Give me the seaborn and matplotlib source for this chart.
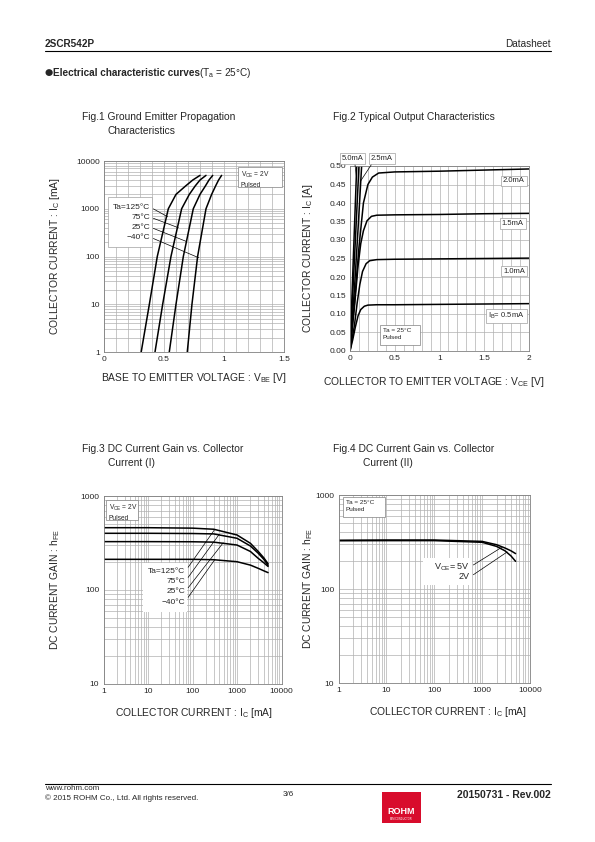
import pandas as pd
import seaborn as sns
import matplotlib.pyplot as plt
from matplotlib.patches import Rectangle
from matplotlib.lines import Line2D

# ---- Fig.1 Ground emitter propagation (IC vs VBE) ----
fig1_ic = [1, 10, 100, 1000, 2000, 3000, 4000, 5000]
fig1_names = ["Ta=125°C", "75°C", "25°C", "\u221240°C"]
fig1_vbe_125 = [0.31, 0.378, 0.444, 0.536, 0.60, 0.68, 0.74, 0.80]
fig1_vbe_75 = [0.425, 0.489, 0.558, 0.647, 0.711, 0.76, 0.80, 0.85]
fig1_vbe_25 = [0.544, 0.60, 0.661, 0.744, 0.80, 0.845, 0.875, 0.906]
fig1_vbe_m40 = [0.694, 0.733, 0.78, 0.85, 0.897, 0.93, 0.955, 0.98]
fig1_leader_v = [0.53, 0.62, 0.69, 0.79]
fig1_leader_ic = [680, 400, 205, 94]

# ---- Fig.2 Typical output characteristics (IC vs VCE) ----
fig2_names = ["0.5mA", "1.0mA", "1.5mA", "2.0mA", "2.5mA", "3.0mA", "5.0mA"]
fig2_vce_05 = [0, 0.03, 0.06, 0.09, 0.12, 0.16, 0.2, 0.3, 0.5, 1.0, 1.5, 2.0]
fig2_ic_05 = [0, 0.03, 0.065, 0.095, 0.112, 0.121, 0.124, 0.125, 0.125, 0.126, 0.127, 0.128]
fig2_vce_10 = [0, 0.05, 0.08, 0.11, 0.14, 0.18, 0.22, 0.3, 0.5, 1.0, 1.5, 2.0]
fig2_ic_10 = [0, 0.07, 0.13, 0.18, 0.215, 0.236, 0.244, 0.247, 0.248, 0.249, 0.250, 0.251]
fig2_vce_15 = [0, 0.05, 0.09, 0.12, 0.15, 0.19, 0.24, 0.3, 0.5, 1.0, 1.5, 2.0]
fig2_ic_15 = [0, 0.12, 0.23, 0.29, 0.325, 0.352, 0.364, 0.367, 0.368, 0.369, 0.371, 0.372]
fig2_vce_20 = [0, 0.05, 0.1, 0.15, 0.2, 0.25, 0.32, 0.5, 1.0, 1.5, 2.0]
fig2_ic_20 = [0, 0.13, 0.28, 0.40, 0.45, 0.47, 0.481, 0.484, 0.486, 0.489, 0.492]
fig2_vce_25 = [0, 0.05, 0.09, 0.13]
fig2_ic_25 = [0, 0.17, 0.33, 0.5]
fig2_vce_30 = [0, 0.05, 0.10]
fig2_ic_30 = [0, 0.25, 0.5]
fig2_vce_50 = [0, 0.04, 0.075]
fig2_ic_50 = [0, 0.27, 0.5]

# ---- Fig.3 DC current gain vs IC (temperature) ----
fig3_ic = [1, 10, 100, 300, 1000, 2000, 3000, 4000, 5000]
fig3_names = ["Ta=125°C", "75°C", "25°C", "\u221240°C"]
fig3_hfe_125 = [460, 460, 455, 443, 385, 314, 257, 220, 190]
fig3_hfe_75 = [401, 401, 399, 395, 355, 294, 246, 212, 183]
fig3_hfe_25 = [327, 327, 326, 323, 301, 257, 217, 195, 178]
fig3_hfe_m40 = [212, 212, 212, 210, 200, 184, 170, 160, 153]
fig3_leader_ic = [318, 400, 490, 318]
fig3_leader_hfe = [443, 392, 318, 211]

# ---- Fig.4 DC current gain vs IC (VCE) ----
fig4_ic = [1, 10, 100, 1000, 2000, 3000, 4000, 5000]
fig4_names = ["V$_{CE}$= 5V", "2V"]
fig4_hfe_5v = [330, 332, 332, 321, 296, 273, 255, 238]
fig4_hfe_2v = [326, 327, 327, 314, 284, 255, 225, 197]
fig4_leader_ic = [2550, 3340]
fig4_leader_hfe = [277, 248]


def curves_frame(xs, ys, names, xname, yname):
    parts = []
    for n, x, y in zip(names, xs, ys):
        parts.append(pd.DataFrame({xname: x, yname: y, "curve": n}))
    return pd.concat(parts, ignore_index=True)


sns.set_style("white")
plt.rcParams["font.family"] = ["Liberation Sans", "DejaVu Sans"]
plt.rcParams["mathtext.fontset"] = "custom"
plt.rcParams["mathtext.rm"] = "Liberation Sans"
plt.rcParams["mathtext.it"] = "Liberation Sans:italic"
plt.rcParams["mathtext.default"] = "regular"

W, H = 595, 842
fig = plt.figure(figsize=(W / 100, H / 100), dpi=100)

GRID = "#b0b0b0"


def px_axes(l, t, r, b):
    return fig.add_axes([l / W, 1 - b / H, (r - l) / W, (b - t) / H])


def style(ax):
    for s in ax.spines.values():
        s.set_color("#808080")
        s.set_linewidth(0.6)
    ax.tick_params(which="both", length=0, labelsize=6, pad=3)
    ax.grid(which="both", color=GRID, lw=0.5)
    ax.set_axisbelow(True)


def note_box(ax, x0, y0, x1, y1, lines, edge="#808080", size=4.8):
    ax.add_patch(Rectangle((x0, y0), x1 - x0, y1 - y0, transform=ax.transAxes,
                           fc="white", ec=edge, lw=0.5, zorder=1.5, clip_on=False))
    if lines:
        ax.text(x0 + 0.015, y1 - 0.015, lines, transform=ax.transAxes, ha="left",
                va="top", fontsize=size, linespacing=1.5, zorder=3)


def fig_text(x, y, s, **kw):
    fig.text(x / W, 1 - y / H, s, **kw)


def draw(ax, df, x, y):
    sns.lineplot(data=df, x=x, y=y, units="curve", estimator=None, sort=False,
                 color="black", lw=1.1, ax=ax, legend=False)


# ---------------- header ----------------
fig_text(45, 44, "2SCR542P", fontsize=7.2, fontweight="bold", va="center")
fig_text(551, 44, "Datasheet", fontsize=7.2, ha="right", va="center")
fig.add_artist(Line2D([45 / W, 551 / W], [1 - 51 / H, 1 - 51 / H], color="black", lw=0.8))
fig_text(44.5, 73, "\u25cf", fontsize=6.8, va="center", family="DejaVu Sans")
fig_text(53, 73, "Electrical characteristic curves", fontsize=7.2, fontweight="bold", va="center")
fig_text(199, 73, "(T$_a$ = 25°C)", fontsize=7.2, va="center")

# ---------------- Fig.1 ----------------
ax1 = px_axes(104, 161, 284, 352)
df1 = curves_frame([fig1_vbe_125, fig1_vbe_75, fig1_vbe_25, fig1_vbe_m40],
                   [fig1_ic] * 4, fig1_names, "VBE", "IC")
draw(ax1, df1, "VBE", "IC")
ax1.set_yscale("log")
ax1.set_xlim(0, 1.5)
ax1.set_ylim(1, 10000)
ax1.set_xticks([0, 0.5, 1, 1.5], ["0", "0.5", "1", "1.5"])
ax1.set_xticks([i / 10 for i in range(16)], minor=True)
ax1.set_yticks([1, 10, 100, 1000, 10000], ["1", "10", "100", "1000", "10000"])
style(ax1)
ax1.set_xlabel("BASE TO EMITTER VOLTAGE : V$_{BE}$ [V]", fontsize=7.4)
ax1.set_ylabel("COLLECTOR CURRENT : I$_{C}$ [mA]", fontsize=7.4)
ax1.xaxis.set_label_coords(0.5, -0.1)
ax1.yaxis.set_label_coords(-0.235, 0.5)
note_box(ax1, 0.744, 0.864, 0.989, 0.969, "V$_{CE}$ = 2V\nPulsed")
note_box(ax1, 0.022, 0.55, 0.267, 0.81, None, edge="#a0a0a0")
for i, name in enumerate(fig1_names):
    ax1.annotate(name, xy=(fig1_leader_v[i], fig1_leader_ic[i]),
                 xytext=(0.256, 0.759 - 0.0525 * i), textcoords="axes fraction",
                 ha="right", va="center", fontsize=6, zorder=3,
                 arrowprops=dict(arrowstyle="-", lw=0.5, color="black", relpos=(1, 0.5),
                                 shrinkA=0, shrinkB=0))
fig_text(82, 117.5, "Fig.1 Ground Emitter Propagation", fontsize=7.4, va="center")
fig_text(108, 131.5, "Characteristics", fontsize=7.4, va="center")

# ---------------- Fig.2 ----------------
ax2 = px_axes(350, 166, 529, 351)
df2 = curves_frame([fig2_vce_05, fig2_vce_10, fig2_vce_15, fig2_vce_20, fig2_vce_25, fig2_vce_30, fig2_vce_50],
                   [fig2_ic_05, fig2_ic_10, fig2_ic_15, fig2_ic_20, fig2_ic_25, fig2_ic_30, fig2_ic_50],
                   fig2_names, "VCE", "IC")
draw(ax2, df2, "VCE", "IC")
ax2.set_xlim(0, 2)
ax2.set_ylim(0, 0.5)
ax2.set_xticks([0, 0.5, 1, 1.5, 2], ["0", "0.5", "1", "1.5", "2"])
ax2.set_xticks([i / 10 for i in range(21)], minor=True)
ax2.set_yticks([i * 0.05 for i in range(11)], [f"{i * 0.05:.2f}" for i in range(11)])
style(ax2)
ax2.set_xlabel("COLLECTOR TO EMITTER VOLTAGE : V$_{CE}$ [V]", fontsize=7.4)
ax2.set_ylabel("COLLECTOR CURRENT : I$_{C}$ [A]", fontsize=7.4)
ax2.xaxis.set_label_coords(0.47, -0.13)
ax2.yaxis.set_label_coords(-0.195, 0.5)
box = dict(boxstyle="square,pad=0.25", fc="white", ec="#a0a0a0", lw=0.5)
ax2.text(0.916, 0.919, "2.0mA", transform=ax2.transAxes, ha="center", va="center", fontsize=5.5, bbox=box)
ax2.text(0.91, 0.689, "1.5mA", transform=ax2.transAxes, ha="center", va="center", fontsize=5.5, bbox=box)
ax2.text(0.916, 0.432, "1.0mA", transform=ax2.transAxes, ha="center", va="center", fontsize=5.5, bbox=box)
ax2.text(0.874, 0.189, "I$_B$= 0.5mA", transform=ax2.transAxes, ha="center", va="center", fontsize=5.5, bbox=box)
ax2.annotate("5.0mA", xy=(0.072, 0.47), xytext=(0.014, 1.04), textcoords="axes fraction",
             ha="center", va="center", fontsize=5.5, bbox=box, annotation_clip=False,
             arrowprops=dict(arrowstyle="-", lw=0.5, color="black", relpos=(0.6, 0), shrinkA=0, shrinkB=0))
ax2.annotate("2.5mA", xy=(0.12, 0.46), xytext=(0.178, 1.04), textcoords="axes fraction",
             ha="center", va="center", fontsize=5.5, bbox=box, annotation_clip=False,
             arrowprops=dict(arrowstyle="-", lw=0.5, color="black", relpos=(0.1, 0), shrinkA=0, shrinkB=0))
note_box(ax2, 0.168, 0.032, 0.391, 0.141, "Ta = 25°C\nPulsed", size=4.6)
fig_text(333, 117, "Fig.2 Typical Output Characteristics", fontsize=7.4, va="center")

# ---------------- Fig.3 ----------------
ax3 = px_axes(103.5, 496, 281.5, 684)
df3 = curves_frame([fig3_ic] * 4, [fig3_hfe_125, fig3_hfe_75, fig3_hfe_25, fig3_hfe_m40],
                   fig3_names, "IC", "hFE")
draw(ax3, df3, "IC", "hFE")
ax3.set_xscale("log")
ax3.set_yscale("log")
ax3.set_xlim(1, 10000)
ax3.set_ylim(10, 1000)
ax3.set_xticks([1, 10, 100, 1000, 10000], ["1", "10", "100", "1000", "10000"])
ax3.set_yticks([10, 100, 1000], ["10", "100", "1000"])
style(ax3)
ax3.set_xlabel("COLLECTOR CURRENT : I$_{C}$ [mA]", fontsize=7.4)
ax3.set_ylabel("DC CURRENT GAIN : h$_{FE}$", fontsize=7.4)
ax3.xaxis.set_label_coords(0.51, -0.115)
ax3.yaxis.set_label_coords(-0.235, 0.5)
note_box(ax3, 0.014, 0.872, 0.194, 0.979, "V$_{CE}$ = 2V\nPulsed")
note_box(ax3, 0.222, 0.383, 0.469, 0.644, None, edge="none")
for i, name in enumerate(fig3_names):
    ax3.annotate(name, xy=(fig3_leader_ic[i], fig3_leader_hfe[i]),
                 xytext=(0.457, 0.596 - 0.0533 * i), textcoords="axes fraction",
                 ha="right", va="center", fontsize=6, zorder=3,
                 arrowprops=dict(arrowstyle="-", lw=0.5, color="black", relpos=(1, 0.5),
                                 shrinkA=0, shrinkB=0))
fig_text(82, 448.5, "Fig.3 DC Current Gain vs. Collector", fontsize=7.4, va="center")
fig_text(108, 463.5, "Current (I)", fontsize=7.4, va="center")

# ---------------- Fig.4 ----------------
ax4 = px_axes(338.5, 495, 530, 683)
df4 = curves_frame([fig4_ic] * 2, [fig4_hfe_5v, fig4_hfe_2v], fig4_names, "IC", "hFE")
draw(ax4, df4, "IC", "hFE")
ax4.set_xscale("log")
ax4.set_yscale("log")
ax4.set_xlim(1, 10000)
ax4.set_ylim(10, 1000)
ax4.set_xticks([1, 10, 100, 1000, 10000], ["1", "10", "100", "1000", "10000"])
ax4.set_yticks([10, 100, 1000], ["10", "100", "1000"])
style(ax4)
ax4.set_xlabel("COLLECTOR CURRENT : I$_{C}$ [mA]", fontsize=7.4)
ax4.set_ylabel("DC CURRENT GAIN : h$_{FE}$", fontsize=7.4)
ax4.xaxis.set_label_coords(0.572, -0.115)
ax4.yaxis.set_label_coords(-0.123, 0.5)
note_box(ax4, 0.023, 0.883, 0.243, 0.989, "Ta = 25°C\nPulsed", size=4.6)
note_box(ax4, 0.441, 0.521, 0.697, 0.665, None, edge="none")
for i, name in enumerate(fig4_names):
    ax4.annotate(name, xy=(fig4_leader_ic[i], fig4_leader_hfe[i]),
                 xytext=(0.687, 0.617 - 0.053 * i), textcoords="axes fraction",
                 ha="right", va="center", fontsize=6.5, zorder=3,
                 arrowprops=dict(arrowstyle="-", lw=0.5, color="black", relpos=(1, 0.5),
                                 shrinkA=0, shrinkB=0))
fig_text(333, 448.5, "Fig.4 DC Current Gain vs. Collector", fontsize=7.4, va="center")
fig_text(363, 463.5, "Current (II)", fontsize=7.4, va="center")

# ---------------- footer ----------------
fig.add_artist(Line2D([45 / W, 551 / W], [1 - 784 / H, 1 - 784 / H], color="black", lw=0.8))
fig_text(45, 789, "www.rohm.com", fontsize=5.8, va="center")
fig_text(45, 798.5, "\u00a9 2015 ROHM Co., Ltd. All rights reserved.", fontsize=5.8, va="center")
fig_text(283, 795, "3/6", fontsize=5.8, va="center")
fig_text(551, 795, "20150731 - Rev.002", fontsize=7.5, fontweight="bold", ha="right", va="center")
fig.add_artist(Rectangle((382 / W, 1 - 823 / H), 39 / W, 31 / H, transform=fig.transFigure,
                         fc="#d80c2c", ec="none"))
fig_text(401.5, 811, "ROHM", fontsize=6.5, fontweight="bold", color="white", ha="center", va="center")
fig_text(401.5, 818.5, "SEMICONDUCTOR", fontsize=1.8, color="white", ha="center", va="center")

fig.savefig("out.png", dpi=100)
